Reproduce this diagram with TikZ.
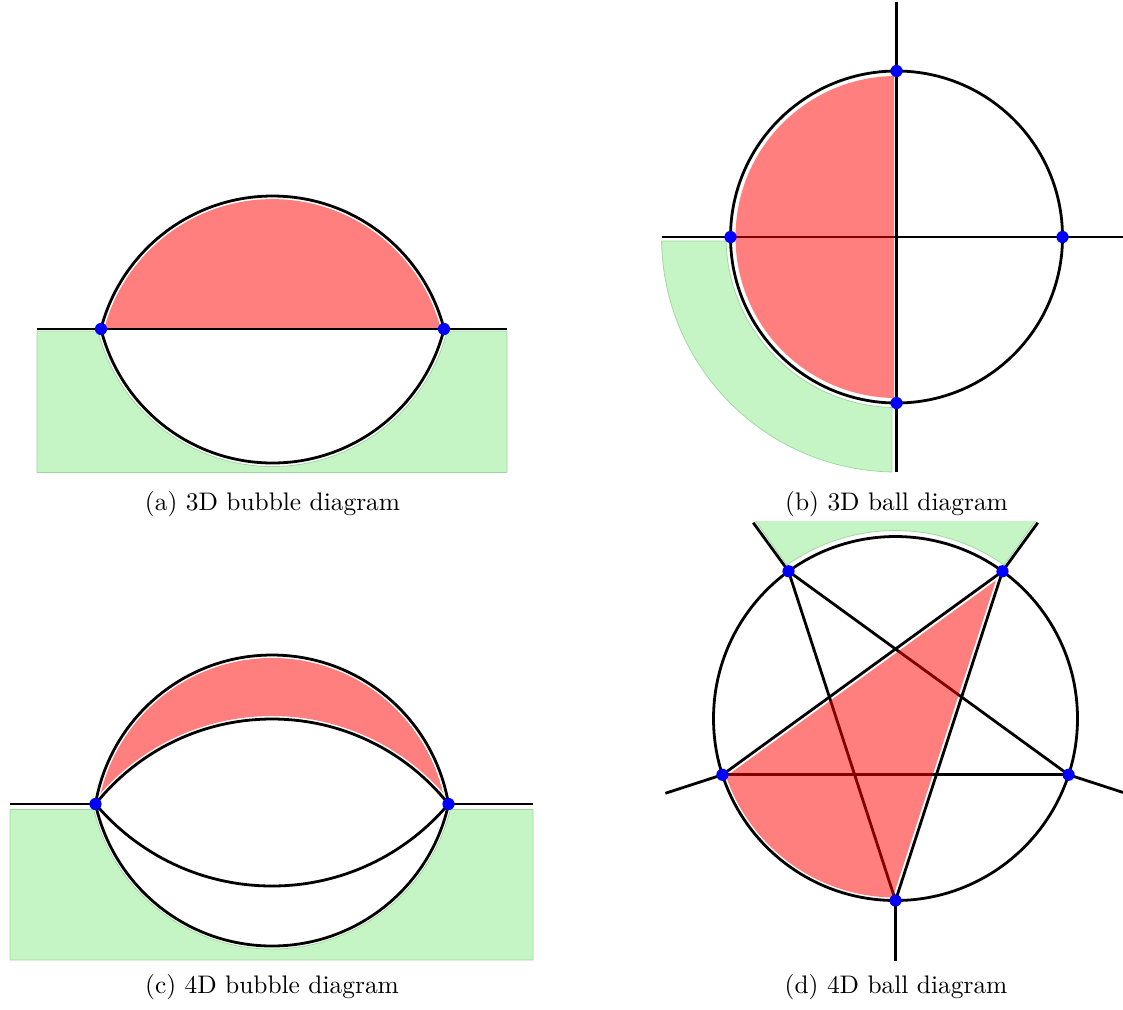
\documentclass[tikz,border=0pt]{standalone}
\usetikzlibrary{calc}
\definecolor{gfill}{RGB}{197,245,197}
\definecolor{gline}{RGB}{160,215,160}
\tikzset{
  blk/.style={line width=1.1pt, draw=black},
  grn/.style={fill=gfill, draw=gline, line width=0.3pt},
  rd/.style={fill=red, fill opacity=0.5},
  dot/.style={circle, fill=blue, inner sep=0pt, minimum size=4.8pt},
  captext/.style={anchor=base}
}
\begin{document}
\begin{tikzpicture}[x=0.3937pt,y=-0.3937pt]
\useasboundingbox (0,0) rectangle (1123,1009);

% ---------------- (a) 3D bubble ----------------
\coordinate (aA) at (101,329);
\coordinate (aB) at (444,329);
\coordinate (aU) at (272.5,373.1);
\coordinate (aL) at (272.5,286.25);
\coordinate (aW) at (37,329);
\coordinate (aE) at (507,329);
\path[grn] (37,331) -- (97.9,331) arc[start angle=165.62, end angle=14.38, radius=180.25]
  -- (507,331) -- (507,472.5) -- (37,472.5) -- cycle;
\draw[blk] (aW) -- (aE);
\begin{scope}
  \clip (0,0) rectangle (560,329);
  \draw[blk] (aU) circle[radius=177.1];
\end{scope}
\begin{scope}
  \clip (0,329) rectangle (560,500);
  \draw[blk] (aL) circle[radius=176.75];
\end{scope}
\begin{scope}
  \clip (0,0) rectangle (560,327.5);
  \fill[rd] (aU) circle[radius=174];
\end{scope}
\node[dot] (dotaA) at (aA) {};
\node[dot] (dotaB) at (aB) {};

% ---------------- (b) 3D ball ----------------
\coordinate (bC) at (896.5,237);
\coordinate (bN) at (896.5,2);
\coordinate (bS) at (896.5,472);
\coordinate (bW) at (661.5,237);
\coordinate (bE) at (1131.5,237);
\path[grn] (892,471.96) arc[start angle=91.1, end angle=179.02, radius=235]
  -- (726.05,241) arc[start angle=178.66, end angle=91.51, radius=170.5] -- cycle;
\draw[blk] (bC) circle[radius=166];
\draw[blk] (bN) -- (bS);
\draw[blk] (bW) -- (bE);
\begin{scope}
  \clip (600,0) rectangle (894.2,480);
  \fill[rd] (bC) circle[radius=161];
\end{scope}
\node[dot] (dotbN) at (896.5,71) {};
\node[dot] (dotbS) at (896.5,403) {};
\node[dot] (dotbW) at (730.5,237) {};
\node[dot] (dotbE) at (1062.5,237) {};

% ---------------- (c) 4D bubble ----------------
\coordinate (cA) at (95.5,804);
\coordinate (cB) at (448.5,804);
\coordinate (cW) at (10,804);
\coordinate (cE) at (533,804);
\coordinate (cOU) at (272,834);
\coordinate (cOL) at (272,765.3);
\coordinate (cIU) at (272,944.7);
\coordinate (cIL) at (272,655.1);
\path[grn] (10,809.5) -- (93.7,809.5) arc[start angle=166.08, end angle=13.92, radius=183.7]
  -- (533,809.5) -- (533,960) -- (10,960) -- cycle;
\draw[blk] (cW) -- (cA);
\draw[blk] (cB) -- (cE);
\begin{scope}
  \clip (0,520) rectangle (560,804);
  \draw[blk] (cOU) circle[radius=179];
  \draw[blk] (cIU) circle[radius=225.7];
\end{scope}
\begin{scope}
  \clip (0,804) rectangle (560,975);
  \draw[blk] (cOL) circle[radius=180.7];
  \draw[blk] (cIL) circle[radius=230.9];
\end{scope}
\begin{scope}
  \clip (0,520) rectangle (560,802);
  \clip (cOU) circle[radius=176];
  \fill[rd, even odd rule] (cOU) circle[radius=176] (cIU) circle[radius=228.7];
\end{scope}
\node[dot] (dotcA) at (cA) {};
\node[dot] (dotcB) at (cB) {};

% ---------------- (d) 4D ball ----------------
\coordinate (dC) at (895.5,718.5);
\coordinate (dTL) at ($(dC)+(-126:182)$);
\coordinate (dTR) at ($(dC)+(-54:182)$);
\coordinate (dL)  at ($(dC)+(162:182)$);
\coordinate (dR)  at ($(dC)+(18:182)$);
\coordinate (dB)  at ($(dC)+(90:182)$);
\coordinate (eTL) at ($(dC)+(-126:242)$);
\coordinate (eTR) at ($(dC)+(-54:242)$);
\coordinate (eL)  at ($(dC)+(162:242)$);
\coordinate (eR)  at ($(dC)+(18:242)$);
\coordinate (eB)  at ($(dC)+(90:242)$);
\begin{scope}
  \clip (600,521.5) rectangle (1123,720);
  \path[grn] ($(dC)+(-125.3:188)$) arc[start angle=-125.3, end angle=-54.7, radius=188]
    -- ($(dC)+(-54.7:262)$) arc[start angle=-54.7, end angle=-125.3, radius=262] -- cycle;
\end{scope}
\draw[blk] (dC) circle[radius=182];
\draw[blk] (dTL) -- (eTL);
\draw[blk] (dTR) -- (eTR);
\draw[blk] (dL) -- (eL);
\draw[blk] (dR) -- (eR);
\draw[blk] (dB) -- (eB);
\draw[blk] (dTL) -- (dB);
\draw[blk] (dTL) -- (dR);
\draw[blk] (dTR) -- (dL);
\draw[blk] (dTR) -- (dB);
\draw[blk] (dL) -- (dR);
\begin{scope}
  \clip (dC) circle[radius=179];
  \fill[rd] (643.6,836.3) -- (995.85,580.45) -- (861.3,994.5) -- (600,994.5) -- cycle;
\end{scope}
\node[dot] (dotdTL) at (dTL) {};
\node[dot] (dotdTR) at (dTR) {};
\node[dot] (dotdL) at (dL) {};
\node[dot] (dotdR) at (dR) {};
\node[dot] (dotdB) at (dB) {};

% ---------------- captions ----------------
\node[captext] (capa) at (272.5,510) {(a) 3D bubble diagram};
\node[captext] (capb) at (896.5,510) {(b) 3D ball diagram};
\node[captext] (capc) at (272,993) {(c) 4D bubble diagram};
\node[captext] (capd) at (896,993) {(d) 4D ball diagram};
\end{tikzpicture}
\end{document}
